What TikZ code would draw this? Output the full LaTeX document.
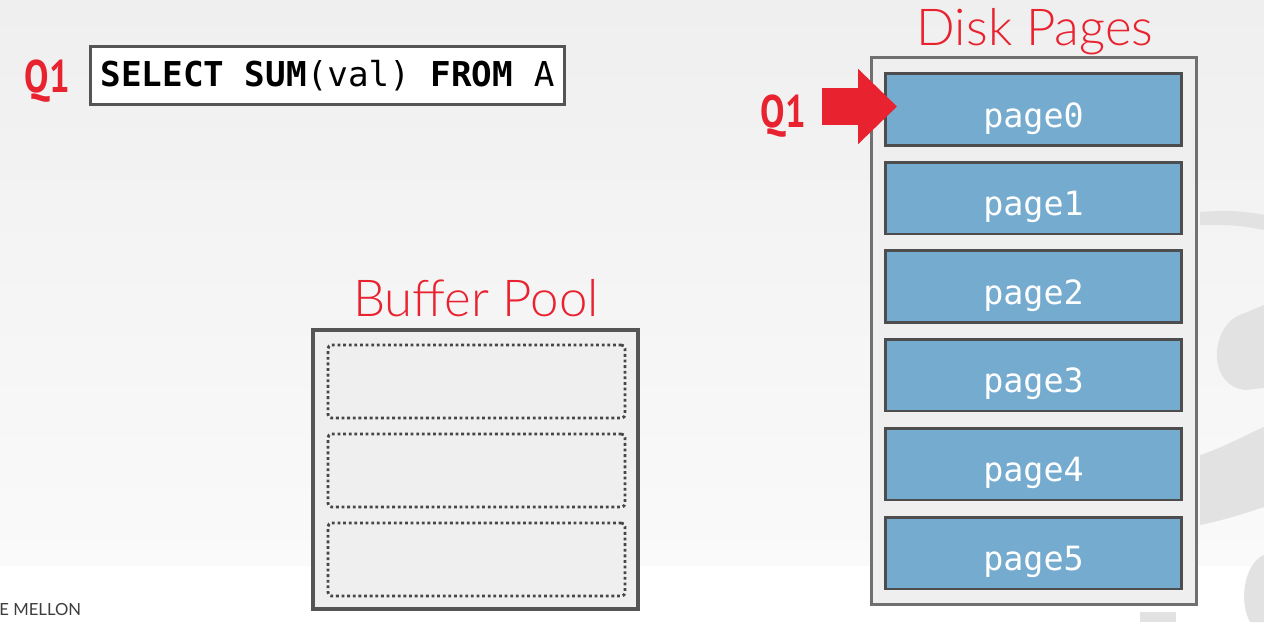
\documentclass[tikz,border=0pt]{standalone}
\usepackage{fontspec}
\setmonofont{DejaVu Sans Mono}
\newfontfamily\titlefont{Lato Light}
\newfontfamily\labelfont[FakeStretch=0.8]{PT Sans}
\newfontfamily\footfont{Lato}
\usetikzlibrary{arrows.meta}
\definecolor{slidered}{RGB}{232,34,47}
\definecolor{pageblue}{RGB}{116,171,207}
\definecolor{pageedge}{RGB}{77,77,77}
\definecolor{diskedge}{RGB}{112,112,112}
\definecolor{boxfill}{RGB}{239,239,239}
\definecolor{pooledge}{RGB}{85,85,85}
\definecolor{slotedge}{RGB}{70,70,70}
\definecolor{bgtop}{RGB}{239,239,239}
\definecolor{bgbottom}{RGB}{250,250,250}
\definecolor{wmgray}{RGB}{226,226,226}
\definecolor{footgray}{RGB}{60,60,60}
\begin{document}
\begin{tikzpicture}[x=0.02cm, y=-0.02cm,
  page/.style={draw=pageedge, fill=pageblue, line width=1.7pt, minimum width=5.92cm, minimum height=1.44cm, inner sep=0pt, text height=20pt, text depth=0pt, text=white, font=\ttfamily\fontsize{19}{22}\selectfont},
  slot/.style={draw=slotedge, fill=boxfill, line width=1.6pt, dash pattern=on 1.6pt off 1.6pt, rounded corners=2pt, minimum width=5.94cm, minimum height=1.46cm, inner sep=0pt},
  title/.style={text=slidered, inner sep=0pt, anchor=base, font=\titlefont\fontsize{29}{32}\selectfont},
  qlabel/.style={text=slidered, inner sep=0pt, anchor=base, font=\labelfont\bfseries\fontsize{26}{28}\selectfont},
  qarrow/.style={draw=slidered, line width=0.74cm, -{Triangle[length=0.78cm, width=1.46cm]}}]

  % Background
  \useasboundingbox (0,0) rectangle (1264,622);
  \shade[top color=bgtop, bottom color=bgbottom] (0,0) rectangle (1264,566);
  \fill[white] (0,566) rectangle (1264,622);
  \fill[wmgray] (1200,212) .. controls (1225,210) and (1245,211) .. (1264,215) -- (1264,230) .. controls (1245,226) and (1225,224) .. (1200,225) -- cycle;
  \fill[wmgray] (1264,305) -- (1245,313) .. controls (1210,322) and (1205,385) .. (1245,390) -- (1264,388) -- cycle;
  \fill[wmgray] (1200,455) .. controls (1225,447) and (1245,435) .. (1264,427) -- (1264,507) .. controls (1240,515) and (1220,521) .. (1200,525) -- cycle;
  \fill[wmgray] (1264,555) .. controls (1245,563) and (1238,600) .. (1250,622) -- (1264,622) -- cycle;
  \fill[wmgray] (1140,622) -- (1140,612) -- (1176,612) -- (1176,622) -- cycle;
  \node[anchor=base west, inner sep=0pt, text=footgray, font=\footfont\fontsize{9.5}{11}\selectfont] (footer) at (-1,615) {E MELLON};

  % Query
  \node[qlabel] (q1a) at (47.5,92) {Q1};
  \node[draw=pooledge, fill=white, line width=1.7pt, minimum width=9.48cm, minimum height=1.16cm, inner sep=0pt, font=\ttfamily\fontsize{19.5}{22}\selectfont] (query) at (327.5,75.5) {\textbf{SELECT SUM}(val) \textbf{FROM} A};

  % Buffer pool
  \node[title] (pooltitle) at (476,316) {Buffer Pool};
  \node[draw=pooledge, fill=boxfill, line width=2.3pt, minimum width=6.5cm, minimum height=5.58cm] (pool) at (475.5,469.5) {};
  \node[slot] (slot0) at (476.5,381.5) {};
  \node[slot] (slot1) at (476.5,470.5) {};
  \node[slot] (slot2) at (476.5,559.5) {};

  % Disk pages
  \node[title] (disktitle) at (1035,45) {Disk Pages};
  \node[draw=diskedge, fill=boxfill, line width=1.7pt, minimum width=6.5cm, minimum height=10.94cm] (disk) at (1034,331) {};
  \node[page] (page0) at (1033.5,109.5) {page0};
  \node[page] (page1) at (1033.5,198) {page1};
  \node[page] (page2) at (1033.5,286.5) {page2};
  \node[page] (page3) at (1033.5,375) {page3};
  \node[page] (page4) at (1033.5,464) {page4};
  \node[page] (page5) at (1033.5,553) {page5};

  % Cursor
  \node[qlabel] (q1b) at (783.5,127) {Q1};
  \coordinate (qtail) at (822,106.5);
  \draw[qarrow, shorten >=-0.26cm] (qtail) -- (qtail -| page0.west);

\end{tikzpicture}
\end{document}
